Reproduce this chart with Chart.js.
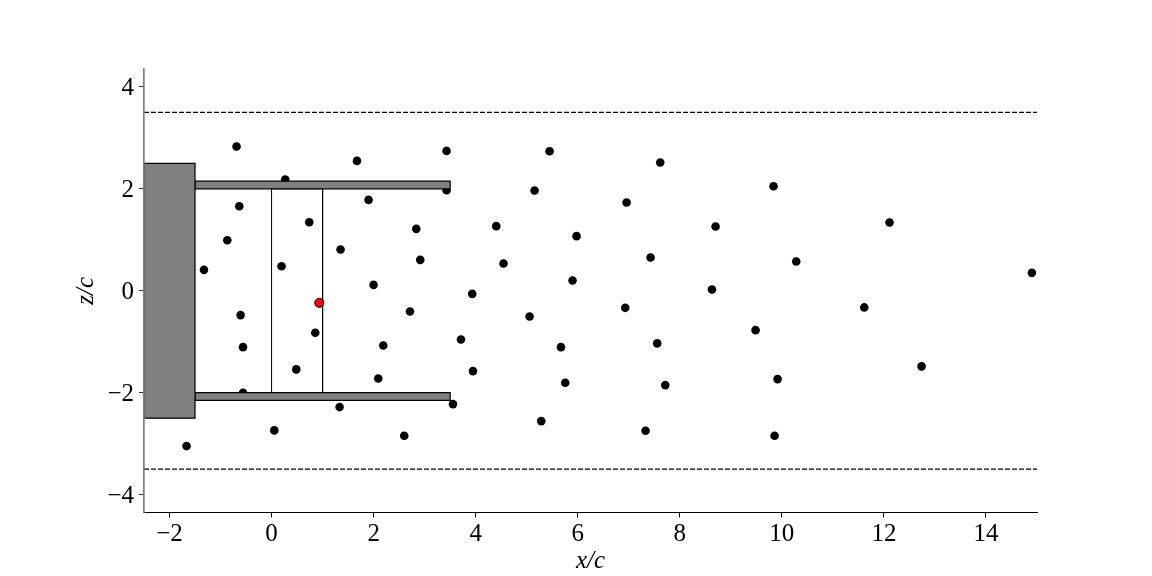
<!DOCTYPE html>
<html>
<head>
<meta charset="utf-8">
<script src="https://cdn.jsdelivr.net/npm/chart.js@4/dist/chart.umd.js"></script>
<style>
body { margin: 0; background: #fff; }
canvas { display: block; }
</style>
</head>
<body>
<canvas id="chart" width="1152" height="576"></canvas>
<script>
// probe positions
const probeX = [-0.686, 1.674, 3.429, 0.268, 3.429, -0.633, 1.901, 0.739, 2.836, -0.868,
    1.352, -1.325, 0.196, 2.914, 1.999, -0.607, 2.712, 0.856, 3.712, -0.560,
    2.189, 0.484, 2.091, -0.560, 1.333, 3.555, 0.053, 2.600, -1.666, 5.448,
    7.617, 5.154, 6.957, 9.837, 4.403, 5.977, 8.701, 4.546, 7.427, 10.282,
    5.898, 8.630, 3.933, 5.056, 6.931, 9.485, 5.671, 7.558, 3.947, 5.755,
    7.715, 9.916, 5.285, 7.329, 9.857, 12.11, 14.90, 11.615, 12.738];
const probeZ = [2.830, 2.547, 2.743, 2.182, 1.973, 1.659, 1.782, 1.345, 1.214, 0.992,
    0.810, 0.410, 0.482, 0.606, 0.116, -0.478, -0.406, -0.825, -0.955, -1.106,
    -1.073, -1.543, -1.720, -2.002, -2.282, -2.224, -2.739, -2.845, -3.047, 2.737,
    2.516, 1.967, 1.731, 2.051, 1.267, 1.071, 1.261, 0.535, 0.653, 0.575,
    0.202, 0.025, -0.061, -0.504, -0.335, -0.773, -1.106, -1.033, -1.576, -1.806,
    -1.851, -1.733, -2.557, -2.747, -2.845, 1.339, 0.351, -0.327, -1.484];
const activeX = [0.935];
const activeZ = [-0.237];

// outlines in x/c, z/c
const baseX = [-2.5, -1.5, -1.5, -2.5, -2.5];
const baseZ = [-2.5, -2.5, 2.5, 2.5, -2.5];
const wallX = [-1.5, 3.5, 3.5, -1.5, -1.5];
const upperWallZ = [2, 2, 2.15, 2.15, 2];
const lowerWallZ = [-2, -2, -2.15, -2.15, -2];
const chordX = [0, 0, 1, 1];
const chordZ = [-2, 2, 2, -2];
const limitX = [-2.5, 15];
const limitZ = 3.5;

const xTicks = [-2, 0, 2, 4, 6, 8, 10, 12, 14];
const zTicks = [-4, -2, 0, 2, 4];

const serif = '"Liberation Serif", "Times New Roman", serif';

function toPoints(xs, zs) {
    return xs.map((x, i) => ({ x: x, y: zs[i] }));
}

function outline(xs, zs, order) {
    return {
        type: 'line',
        data: toPoints(xs, zs),
        borderColor: '#000',
        backgroundColor: '#808080',
        borderWidth: 1.2,
        fill: 'shape',
        tension: 0,
        pointRadius: 0,
        clip: false,
        order: order
    };
}

function limitLine(z) {
    return {
        type: 'line',
        data: limitX.map(x => ({ x: x, y: z })),
        borderColor: '#000',
        borderWidth: 1.2,
        borderDash: [5, 2],
        fill: false,
        pointRadius: 0,
        order: 5
    };
}

function minusLabel(value) {
    return String(value).replace('-', '\u2212');
}

new Chart(document.getElementById('chart'), {
    type: 'scatter',
    data: {
        datasets: [
            limitLine(limitZ),
            limitLine(-limitZ),
            {
                data: toPoints(probeX, probeZ),
                backgroundColor: '#000',
                borderColor: '#000',
                pointRadius: 4.3,
                borderWidth: 0,
                order: 4
            },
            {
                type: 'line',
                data: toPoints(chordX, chordZ),
                borderColor: '#000',
                borderWidth: 1,
                fill: false,
                tension: 0,
                pointRadius: 0,
                order: 3
            },
            outline(baseX, baseZ, 2),
            outline(wallX, upperWallZ, 2),
            outline(wallX, lowerWallZ, 2),
            {
                data: toPoints(activeX, activeZ),
                backgroundColor: '#ff0000',
                borderColor: '#000',
                pointRadius: 4.5,
                pointBorderWidth: 1,
                order: 1
            }
        ]
    },
    options: {
        responsive: false,
        animation: false,
        events: [],
        layout: {
            autoPadding: false,
            padding: { left: 0, top: 69, right: 115, bottom: 0 }
        },
        plugins: {
            legend: { display: false },
            tooltip: { enabled: false }
        },
        scales: {
            x: {
                type: 'linear',
                min: -2.5,
                max: 15,
                afterFit: scale => { scale.height = 63.5; },
                afterBuildTicks: scale => { scale.ticks = xTicks.map(v => ({ value: v })); },
                border: { color: '#000', width: 1 },
                grid: { drawOnChartArea: false, color: '#000', tickColor: '#000', tickLength: 5, tickWidth: 1 },
                ticks: {
                    color: '#000',
                    font: { family: serif, size: 25 },
                    padding: 2,
                    maxRotation: 0,
                    callback: minusLabel
                },
                title: {
                    display: true,
                    text: 'x/c',
                    color: '#000',
                    font: { family: serif, size: 25, style: 'italic' },
                    padding: { top: -1, bottom: 0 }
                }
            },
            y: {
                type: 'linear',
                min: -4.35,
                max: 4.35,
                afterFit: scale => { scale.width = 144; },
                afterBuildTicks: scale => { scale.ticks = zTicks.map(v => ({ value: v })); },
                border: { color: '#808080', width: 1.7, z: 1 },
                grid: { drawOnChartArea: false, color: '#333', tickColor: '#333', tickLength: 5, tickWidth: 1 },
                ticks: {
                    color: '#000',
                    font: { family: serif, size: 25 },
                    padding: 5,
                    labelOffset: 1.5,
                    callback: minusLabel
                },
                title: {
                    display: true,
                    text: 'z/c',
                    color: '#000',
                    font: { family: serif, size: 25, style: 'italic' },
                    padding: { top: 71, bottom: 0 }
                }
            }
        }
    }
});
</script>
</body>
</html>
